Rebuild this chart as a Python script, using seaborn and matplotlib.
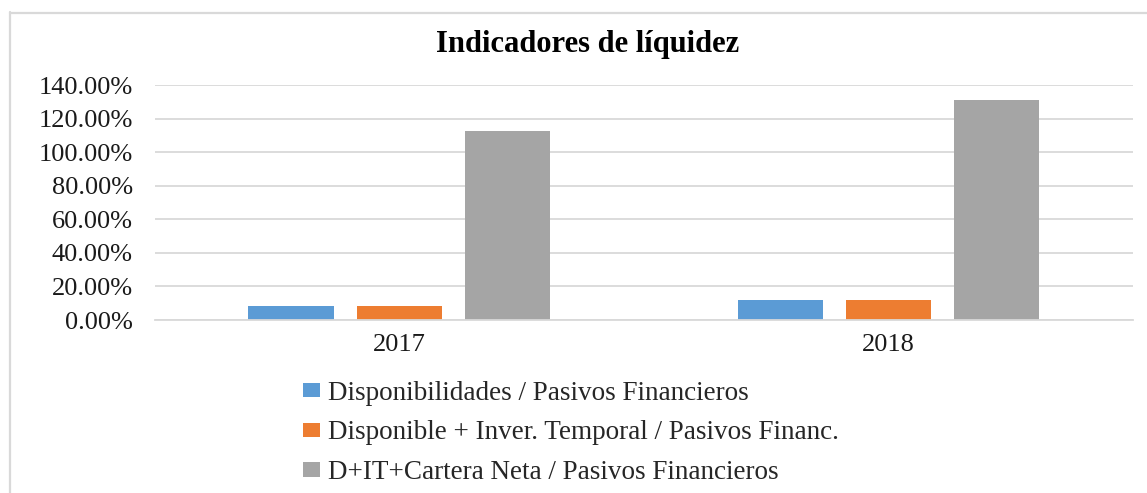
import matplotlib
matplotlib.use("Agg")
import matplotlib.pyplot as plt
from matplotlib.lines import Line2D
from matplotlib.ticker import PercentFormatter
import seaborn as sns
import pandas as pd

# Liquidity indicators per year (percent)
years = ["2017", "2018"]
series = [
    "Disponibilidades / Pasivos Financieros",
    "Disponible + Inver. Temporal / Pasivos Financ.",
    "D+IT+Cartera Neta / Pasivos Financieros",
]
disponibilidades = [8.3, 11.9]
disponible_inver = [8.3, 11.9]
cartera_neta = [112.7, 131.5]
colors = ["#5B9BD5", "#ED7D31", "#A5A5A5"]

df = pd.DataFrame({
    "year": years * 3,
    "serie": [s for s in series for _ in years],
    "value": disponibilidades + disponible_inver + cartera_neta,
})

sns.set_theme(style="white")
plt.rcParams["font.family"] = ["Liberation Serif", "DejaVu Serif"]

fig = plt.figure(figsize=(11.47, 4.93), dpi=100)
fig.patch.set_facecolor("white")
ax = fig.add_axes([0.1351, 0.3509, 0.8527, 0.4761])

sns.barplot(
    data=df, x="year", y="value", hue="serie", hue_order=series,
    palette=colors, width=0.664, gap=0.21, ax=ax, legend=True,
    saturation=1, edgecolor="none",
)

ax.set_xlim(-0.5, 1.5)
ax.set_ylim(0, 140)
ax.set_yticks(range(0, 141, 20))
ax.yaxis.set_major_formatter(PercentFormatter(xmax=100, decimals=2))
ax.grid(axis="y", color="#D9D9D9", linewidth=1.3)
ax.set_axisbelow(True)
for side in ["top", "right", "left"]:
    ax.spines[side].set_visible(False)
ax.spines["bottom"].set_color("#D9D9D9")
ax.spines["bottom"].set_linewidth(1.3)
ax.tick_params(axis="both", length=0, labelsize=19, colors="#1a1a1a")
ax.tick_params(axis="y", pad=16)
ax.tick_params(axis="x", pad=10)
ax.set_xlabel("")
ax.set_ylabel("")

handles, labels = ax.get_legend_handles_labels()
ax.get_legend().remove()
fig.legend(
    handles, labels, loc="upper left", bbox_to_anchor=(0.255, 0.25),
    frameon=False, fontsize=19.5, ncol=1, handlelength=0.6, handleheight=0.45,
    handletextpad=0.3, labelspacing=0.55, borderaxespad=0,
)

fig.text(0.512, 0.909, "Indicadores de líquidez", ha="center", va="center",
         fontsize=22, fontweight="bold", color="black")

# Light chart-area frame along the top and left edges
fig.add_artist(Line2D([10 / 1147, 10 / 1147], [0, 1 - 12 / 493],
                      transform=fig.transFigure, color="#D9D9D9", linewidth=1.6))
fig.add_artist(Line2D([10 / 1147, 1], [1 - 13 / 493, 1 - 13 / 493],
                      transform=fig.transFigure, color="#D9D9D9", linewidth=1.6))

fig.savefig("out.png", dpi=100, facecolor="white")
